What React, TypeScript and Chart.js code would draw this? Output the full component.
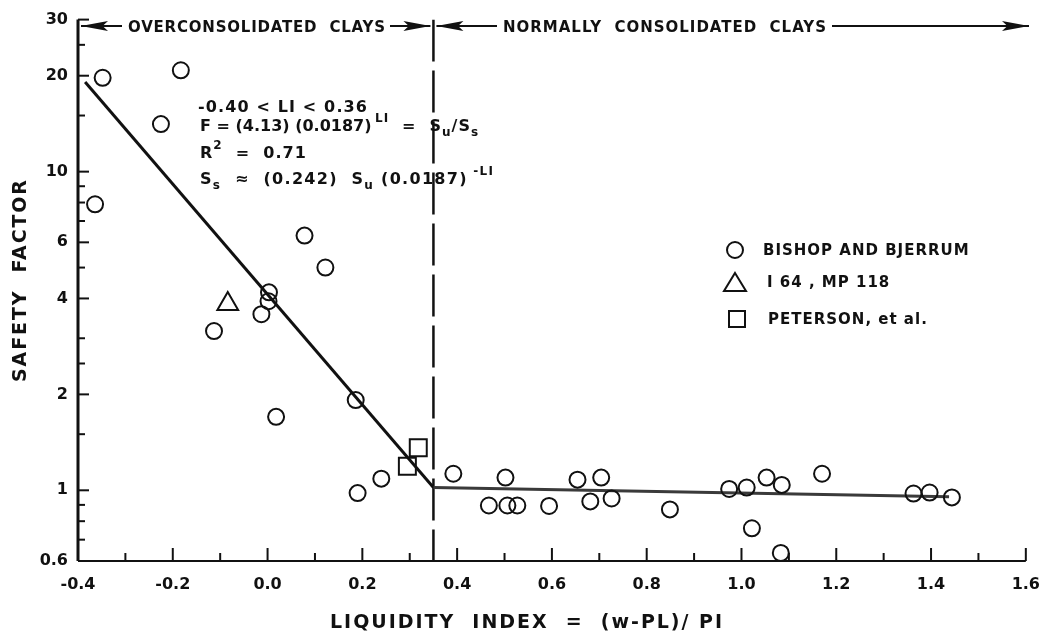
import React, { useEffect, useRef } from "react";
import { Chart, registerables } from "chart.js";

Chart.register(...registerables);

const INK = "#111111";
const FONT = '"DejaVu Sans", "Liberation Sans", sans-serif';

// Bishop and Bjerrum (circles)
const BISHOP_LI = [-0.348, -0.183, -0.225, -0.364, 0.078, 0.122, 0.003, 0.002, -0.013, -0.113, 0.018, 0.186, 0.19, 0.24, 0.392, 0.467, 0.502, 0.506, 0.527, 0.594, 0.654, 0.681, 0.704, 0.726, 0.849, 0.974, 1.011, 1.022, 1.053, 1.085, 1.083, 1.17, 1.363, 1.397, 1.444];
const BISHOP_F = [19.7, 20.8, 14.1, 7.9, 6.3, 5.0, 4.18, 3.92, 3.57, 3.16, 1.7, 1.92, 0.98, 1.088, 1.127, 0.896, 1.096, 0.896, 0.896, 0.893, 1.08, 0.923, 1.096, 0.943, 0.871, 1.01, 1.02, 0.76, 1.096, 1.04, 0.636, 1.127, 0.977, 0.984, 0.95];
// I 64, MP 118 (triangle)
const I64_LI = [-0.084];
const I64_F = [3.84];
// Peterson et al. (squares)
const PETERSON_LI = [0.295, 0.318];
const PETERSON_F = [1.19, 1.36];
// fitted line
const FIT_LI = [-0.385, 0.35, 1.438];
const FIT_F = [19.1, 1.02, 0.955];
const DIVIDER_LI = 0.35;

const X_MAJOR = [-0.4, -0.2, 0, 0.2, 0.4, 0.6, 0.8, 1.0, 1.2, 1.4, 1.6];
const X_LABELS = ["-0.4", "-0.2", "0.0", "0.2", "0.4", "0.6", "0.8", "1.0", "1.2", "1.4", "1.6"];
const X_MINOR = [-0.3, -0.1, 0.1, 0.3, 0.5, 0.7, 0.9, 1.1, 1.3, 1.5];
const Y_MAJOR = [0.6, 1, 2, 4, 6, 10, 20, 30];
const Y_LABELS = ["0.6", "1", "2", "4", "6", "10", "20", "30"];
const Y_MINOR = [0.7, 0.8, 0.9, 1.5, 2.5, 3, 5, 7, 8, 9, 15, 25];

const LEGEND_LABELS = ["BISHOP AND BJERRUM", "I 64 , MP 118", "PETERSON, et al."];

function spaced(ctx: any, text: string, x: number, y: number, width: number) {
  ctx.letterSpacing = "0px";
  const w = ctx.measureText(text).width;
  const n = Array.from(text).length;
  const ls = n > 1 ? (width - w) / (n - 1) : 0;
  ctx.letterSpacing = ls + "px";
  ctx.textAlign = "left";
  ctx.fillText(text, x, y);
  ctx.letterSpacing = "0px";
}

function rich(ctx: any, segs: [string, string][], x: number, y: number, base: string, small: string, ls: number) {
  let cx = x;
  ctx.letterSpacing = ls + "px";
  for (const [t, k] of segs) {
    ctx.font = k === "n" ? base : small;
    const dy = k === "sub" ? 6 : k === "sup" ? -8 : 0;
    ctx.fillText(t, cx, y + dy);
    cx += ctx.measureText(t).width;
  }
  ctx.letterSpacing = "0px";
}

function head(ctx: any, tipX: number, y: number, dir: number) {
  const len = 27, half = 5;
  ctx.beginPath();
  ctx.moveTo(tipX, y);
  ctx.lineTo(tipX - dir * len, y - half);
  ctx.lineTo(tipX - dir * len * 0.8, y);
  ctx.lineTo(tipX - dir * len, y + half);
  ctx.closePath();
  ctx.fill();
}

function hline(ctx: any, x1: number, x2: number, y: number, w: number) {
  ctx.lineWidth = w;
  ctx.beginPath();
  ctx.moveTo(x1, y);
  ctx.lineTo(x2, y);
  ctx.stroke();
}

const overlay = {
  id: "overlay",
  afterDraw(chart: any) {
    const ctx = chart.ctx;
    const xs = chart.scales.x;
    const ys = chart.scales.y;
    const area = chart.chartArea;
    ctx.save();
    ctx.strokeStyle = INK;
    ctx.fillStyle = INK;

    // axis lines
    ctx.lineWidth = 3;
    ctx.beginPath();
    ctx.moveTo(area.left, area.top);
    ctx.lineTo(area.left, area.bottom);
    ctx.stroke();
    ctx.lineWidth = 2;
    ctx.beginPath();
    ctx.moveTo(area.left, area.bottom);
    ctx.lineTo(area.right, area.bottom);
    ctx.stroke();

    // inward ticks
    ctx.lineWidth = 2;
    for (const v of X_MAJOR) {
      const p = xs.getPixelForValue(v);
      ctx.beginPath(); ctx.moveTo(p, area.bottom); ctx.lineTo(p, area.bottom - 13); ctx.stroke();
    }
    for (const v of X_MINOR) {
      const p = xs.getPixelForValue(v);
      ctx.beginPath(); ctx.moveTo(p, area.bottom); ctx.lineTo(p, area.bottom - 8); ctx.stroke();
    }
    for (const v of Y_MAJOR) {
      const p = ys.getPixelForValue(v);
      ctx.beginPath(); ctx.moveTo(area.left, p); ctx.lineTo(area.left + 11, p); ctx.stroke();
    }
    for (const v of Y_MINOR) {
      const p = ys.getPixelForValue(v);
      ctx.beginPath(); ctx.moveTo(area.left, p); ctx.lineTo(area.left + 7, p); ctx.stroke();
    }

    // top zone arrows and labels
    const ay = 26;
    const divPx = xs.getPixelForValue(DIVIDER_LI);
    const leftTip = area.left + 3;
    head(ctx, leftTip, ay, -1);
    hline(ctx, leftTip, 122, ay, 2);
    hline(ctx, 390, divPx - 3, ay, 2);
    head(ctx, divPx - 3, ay, 1);
    head(ctx, divPx + 3, ay, -1);
    hline(ctx, divPx + 3, 497, ay, 2);
    const rightTip = 1029;
    hline(ctx, 832, rightTip, ay, 2);
    head(ctx, rightTip, ay, 1);

    ctx.textBaseline = "middle";
    ctx.font = `bold 15px ${FONT}`;
    spaced(ctx, "OVERCONSOLIDATED  CLAYS", 128, 28, 257);
    spaced(ctx, "NORMALLY  CONSOLIDATED  CLAYS", 503, 28, 323);

    // equation block
    const base = `bold 16px ${FONT}`;
    const small = `bold 12px ${FONT}`;
    ctx.font = base;
    spaced(ctx, "-0.40 < LI < 0.36", 198, 108, 169);
    rich(ctx, [["F = (4.13) (0.0187)", "n"]], 200, 127, base, small, 0);
    rich(ctx, [["LI", "sup"]], 375, 127, base, small, 1);
    rich(ctx, [["=  S", "n"], ["u", "sub"], ["/S", "n"], ["s", "sub"]], 402, 127, base, small, 1);
    rich(ctx, [["R", "n"], ["2", "sup"], ["  =  0.71", "n"]], 200, 154, base, small, 1);
    rich(ctx, [["S", "n"], ["s", "sub"], ["  \u2248  (0.242)  S", "n"], ["u", "sub"], [" (0.0187)", "n"], [" -LI", "sup"]], 200, 180, base, small, 1.3);

    // legend
    const ds = chart.data.datasets;
    ctx.lineWidth = 2;
    ctx.beginPath(); ctx.arc(735, 250, 8, 0, Math.PI * 2); ctx.stroke();
    ctx.beginPath();
    ctx.moveTo(735, 273); ctx.lineTo(746, 291); ctx.lineTo(724, 291); ctx.closePath(); ctx.stroke();
    ctx.strokeRect(729, 311, 16, 16);
    ctx.font = `bold 15px ${FONT}`;
    ctx.letterSpacing = "1px";
    ctx.textAlign = "left";
    ctx.fillText(ds[0].label, 763, 251);
    ctx.fillText(ds[1].label, 767, 283);
    ctx.fillText(ds[2].label, 768, 320);
    ctx.letterSpacing = "0px";

    // axis titles
    ctx.font = `bold 19px ${FONT}`;
    spaced(ctx, "LIQUIDITY  INDEX  =  (w-PL)/ PI", 330, 623, 392);
    ctx.save();
    ctx.translate(21, 382);
    ctx.rotate(-Math.PI / 2);
    spaced(ctx, "SAFETY  FACTOR", 0, 0, 202);
    ctx.restore();

    ctx.restore();
  },
};

export default function App() {
  const ref = useRef<HTMLCanvasElement | null>(null);
  useEffect(() => {
    if (!ref.current) return;
    const pts = (xs: number[], ys: number[]) => xs.map((x, i) => ({ x, y: ys[i] }));
    const chart = new Chart(ref.current, {
      type: "scatter",
      data: {
        datasets: [
          {
            label: LEGEND_LABELS[0],
            data: pts(BISHOP_LI, BISHOP_F),
            pointStyle: "circle",
            pointRadius: 8,
            borderWidth: 2,
            borderColor: INK,
            backgroundColor: "rgba(0,0,0,0)",
          },
          {
            label: LEGEND_LABELS[1],
            data: pts(I64_LI, I64_F),
            pointStyle: "triangle",
            pointRadius: 12,
            borderWidth: 2,
            borderColor: INK,
            backgroundColor: "rgba(0,0,0,0)",
          },
          {
            label: LEGEND_LABELS[2],
            data: pts(PETERSON_LI, PETERSON_F),
            pointStyle: "rect",
            pointRadius: 12,
            borderWidth: 2,
            borderColor: INK,
            backgroundColor: "rgba(0,0,0,0)",
          },
          {
            label: "fit",
            type: "line",
            data: pts(FIT_LI, FIT_F),
            showLine: true,
            pointRadius: 0,
            borderWidth: 3,
            borderColor: INK,
            segment: {
              borderColor: (c: any) => (c.p0.parsed.x >= DIVIDER_LI - 0.001 ? "#3a3a3a" : INK),
            },
          } as any,
          {
            label: "divider",
            type: "line",
            data: [
              { x: DIVIDER_LI, y: 30 },
              { x: DIVIDER_LI, y: 0.6 },
            ],
            showLine: true,
            pointRadius: 0,
            borderWidth: 2.5,
            borderColor: INK,
            borderDash: [42, 9],
          } as any,
        ],
      },
      options: {
        responsive: false,
        animation: false,
        layout: { padding: { left: 0, right: 14, top: 15, bottom: 0 } },
        plugins: { legend: { display: false }, tooltip: { enabled: false } },
        scales: {
          x: {
            type: "linear",
            min: -0.4,
            max: 1.6,
            afterBuildTicks: (s: any) => {
              s.ticks = X_MAJOR.map((v) => ({ value: v }));
            },
            afterFit: (s: any) => {
              s.height = 77;
            },
            grid: { display: false, drawTicks: false },
            border: { display: false },
            ticks: {
              autoSkip: false,
              maxRotation: 0,
              padding: 14,
              color: INK,
              font: { family: FONT, size: 16, weight: "bold" },
              callback: (_v: any, i: number) => X_LABELS[i],
            },
          },
          y: {
            type: "logarithmic",
            min: 0.6,
            max: 30,
            afterBuildTicks: (s: any) => {
              s.ticks = Y_MAJOR.map((v) => ({ value: v }));
            },
            afterFit: (s: any) => {
              s.width = 78;
            },
            grid: { display: false, drawTicks: false },
            border: { display: false },
            ticks: {
              autoSkip: false,
              padding: 10,
              color: INK,
              font: { family: FONT, size: 16, weight: "bold" },
              callback: (_v: any, i: number) => Y_LABELS[i],
            },
          },
        },
      },
      plugins: [overlay],
    } as any);
    return () => chart.destroy();
  }, []);
  return (
    <div style={{ position: "absolute", left: 0, top: 0, width: 1054, height: 638, background: "#fff" }}>
      <canvas ref={ref} width={1054} height={638} />
    </div>
  );
}
